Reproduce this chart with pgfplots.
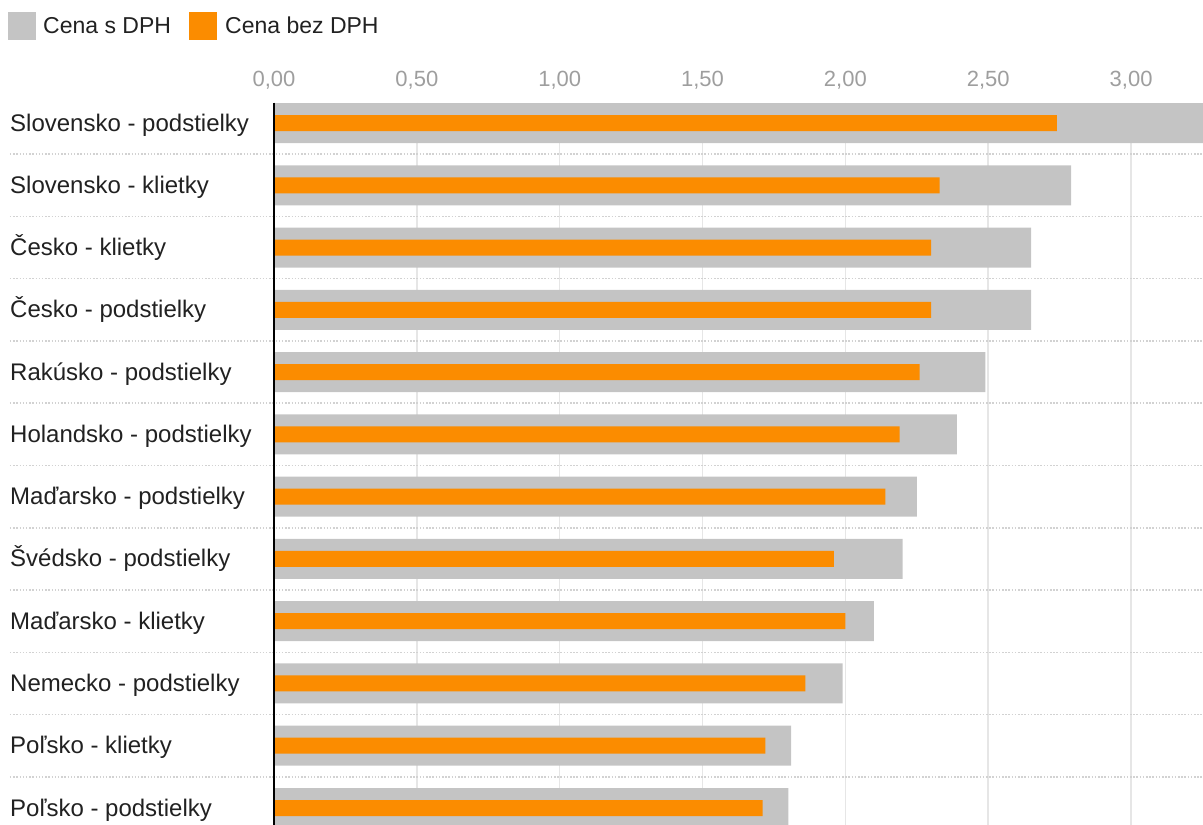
\documentclass[border=0pt]{standalone}
\usepackage{fontspec}
\setmainfont{Liberation Sans}
\usepackage{pgfplots}
\pgfplotsset{compat=1.18}

\definecolor{barGray}{HTML}{C4C4C4}
\definecolor{barOrange}{HTML}{FB8C00}
\definecolor{gridGray}{HTML}{E6E6E6}
\definecolor{sepGray}{HTML}{D2D2D2}
\definecolor{tickGray}{HTML}{9E9E9E}
\definecolor{labelBlack}{HTML}{212121}

\begin{document}
\begin{tikzpicture}[x=1pt,y=1pt]
\useasboundingbox (0,0) rectangle (1203,825);

% legend
\fill[barGray] (8,785) rectangle (36,813);
\node[anchor=base west, inner sep=0pt, text=labelBlack, font=\fontsize{23}{28}\selectfont] at (43,791.7) {Cena s DPH};
\fill[barOrange] (189,785) rectangle (217,813);
\node[anchor=base west, inner sep=0pt, text=labelBlack, font=\fontsize{23}{28}\selectfont] at (225,791.7) {Cena bez DPH};

\begin{axis}[
  at={(274pt,0pt)}, anchor=south west,
  scale only axis, width=929pt, height=722.3pt,
  xmin=0, xmax=3.2517,
  ymin=-0.326, ymax=11.273, y dir=reverse,
  clip=false,
  axis line style={draw=none},
  major tick length=0pt,
  xtick={0,0.5,1,1.5,2,2.5,3},
  xticklabel pos=top,
  xticklabel={\pgfmathprintnumber[fixed,fixed zerofill,precision=2,use comma,assume math mode=true]{\tick}},
  xticklabel style={font=\fontsize{22}{26}\selectfont, text=tickGray, anchor=base, yshift=16pt},
  xmajorgrids, grid style={gridGray, line width=1.5pt},
  ytick={0,1,2,3,4,5,6,7,8,9,10,11},
  yticklabels={Slovensko - podstielky, Slovensko - klietky, Česko - klietky, Česko - podstielky,
    Rakúsko - podstielky, Holandsko - podstielky, Maďarsko - podstielky, Švédsko - podstielky,
    Maďarsko - klietky, Nemecko - podstielky, Poľsko - klietky, Poľsko - podstielky},
  yticklabel style={font=\fontsize{24}{29}\selectfont, text=labelBlack, anchor=base west,
    xshift=-264pt, yshift=-8pt, inner sep=0pt},
]
  % Cena s DPH
  \addplot[xbar, bar shift=0pt, bar width=40pt, fill=barGray, draw=none] coordinates {
    (3.29,0) (2.79,1) (2.65,2) (2.65,3) (2.49,4) (2.39,5)
    (2.25,6) (2.20,7) (2.10,8) (1.99,9) (1.81,10) (1.80,11)};
  % Cena bez DPH
  \addplot[xbar, bar shift=0pt, bar width=16pt, fill=barOrange, draw=none] coordinates {
    (2.74,0) (2.33,1) (2.30,2) (2.30,3) (2.26,4) (2.19,5)
    (2.14,6) (1.96,7) (2.00,8) (1.86,9) (1.72,10) (1.71,11)};
  % row separators
  \pgfplotsinvokeforeach{0,...,10}{
    \draw[sepGray, line width=1.5pt, dash pattern=on 1.5pt off 1.7pt]
      ([xshift=-264pt]axis cs:0,#1+0.5) -- (axis cs:3.2517,#1+0.5);
  }
  % zero line
  \draw[black, line width=1.7pt] (axis cs:0,-0.326) -- (axis cs:0,11.273);
\end{axis}
\end{tikzpicture}
\end{document}
